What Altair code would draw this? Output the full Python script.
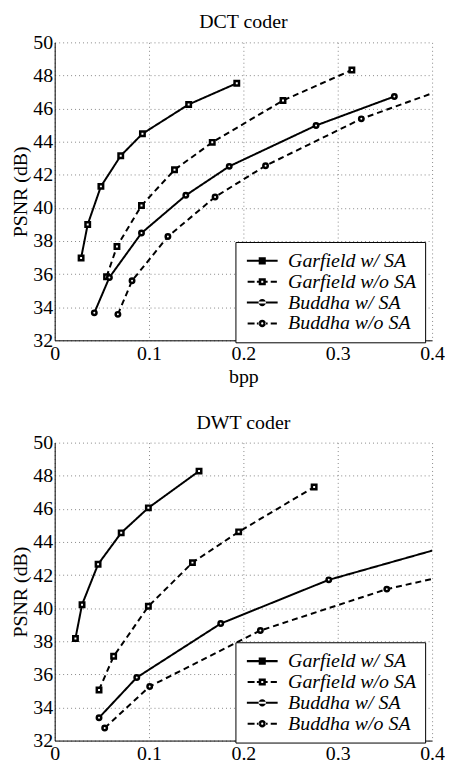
import altair as alt
import pandas as pd

series_names = ["Garfield w/ SA", "Garfield w/o SA", "Buddha w/ SA", "Buddha w/o SA"]
x_ticks = [0, 0.1, 0.2, 0.3, 0.4]
y_ticks = [32, 34, 36, 38, 40, 42, 44, 46, 48, 50]

# DCT coder
dct_garfield_sa_bpp = [0.028, 0.035, 0.049, 0.070, 0.093, 0.142, 0.193]
dct_garfield_sa_psnr = [36.97, 39.0, 41.3, 43.15, 44.48, 46.25, 47.53]
dct_garfield_nosa_bpp = [0.055, 0.066, 0.092, 0.127, 0.167, 0.242, 0.315]
dct_garfield_nosa_psnr = [35.84, 37.67, 40.14, 42.3, 43.96, 46.49, 48.33]
dct_buddha_sa_bpp = [0.042, 0.058, 0.092, 0.139, 0.185, 0.277, 0.360]
dct_buddha_sa_psnr = [33.66, 35.8, 38.48, 40.76, 42.51, 44.98, 46.73]
dct_buddha_nosa_bpp = [0.067, 0.082, 0.120, 0.170, 0.2235, 0.325, 0.45]
dct_buddha_nosa_psnr = [33.57, 35.6, 38.27, 40.66, 42.55, 45.38, 47.95]

# DWT coder
dwt_garfield_sa_bpp = [0.022, 0.029, 0.046, 0.0705, 0.0993, 0.153]
dwt_garfield_sa_psnr = [38.17, 40.21, 42.65, 44.55, 46.06, 48.28]
dwt_garfield_nosa_bpp = [0.047, 0.0625, 0.0993, 0.146, 0.195, 0.275]
dwt_garfield_nosa_psnr = [35.06, 37.09, 40.11, 42.75, 44.61, 47.32]
dwt_buddha_sa_bpp = [0.047, 0.087, 0.176, 0.2905, 0.47]
dwt_buddha_sa_psnr = [33.38, 35.81, 39.07, 41.71, 44.6]
dwt_buddha_nosa_bpp = [0.053, 0.1007, 0.218, 0.352, 0.52]
dwt_buddha_nosa_psnr = [32.76, 35.27, 38.65, 41.15, 43.3]

FONT = "Liberation Serif"


def make_df(parts):
    rows = []
    for name, xs, ys in parts:
        for a, b in zip(xs, ys):
            rows.append({"series": name, "bpp": a, "psnr": b})
    return pd.DataFrame(rows)


dct_df = make_df([
    (series_names[0], dct_garfield_sa_bpp, dct_garfield_sa_psnr),
    (series_names[1], dct_garfield_nosa_bpp, dct_garfield_nosa_psnr),
    (series_names[2], dct_buddha_sa_bpp, dct_buddha_sa_psnr),
    (series_names[3], dct_buddha_nosa_bpp, dct_buddha_nosa_psnr),
])
dwt_df = make_df([
    (series_names[0], dwt_garfield_sa_bpp, dwt_garfield_sa_psnr),
    (series_names[1], dwt_garfield_nosa_bpp, dwt_garfield_nosa_psnr),
    (series_names[2], dwt_buddha_sa_bpp, dwt_buddha_sa_psnr),
    (series_names[3], dwt_buddha_nosa_bpp, dwt_buddha_nosa_psnr),
])

# legend glyphs (filled outlines): line sample + marker; unit = half of nominal symbol size
SOLID_LINE = "M-2,-0.13H2V0.13H-2Z"
DASHED_LINE = ("M-1.9,-0.13H-1.0V0.13H-1.9Z"
               "M-0.7,-0.13H-0.4V0.13H-0.7Z"
               "M0.4,-0.13H0.7V0.13H0.4Z"
               "M1.1,-0.13H1.9V0.13H1.1Z")
SQ_SOLID = "M-0.46,-0.46H0.46V0.46H-0.46Z"
SQ_HOLE = "M-0.46,-0.46H0.46V0.46H-0.46ZM-0.13,-0.13V0.13H0.13V-0.13Z"
CI_SOLID = "M-0.48,0A0.48,0.48,0,1,0,0.48,0A0.48,0.48,0,1,0,-0.48,0Z"
CI_HOLE = (CI_SOLID + "M-0.14,0A0.14,0.14,0,1,1,0.14,0A0.14,0.14,0,1,1,-0.14,0Z")
legend_shapes = [SOLID_LINE + SQ_SOLID, DASHED_LINE + SQ_HOLE,
                 SOLID_LINE + CI_SOLID, DASHED_LINE + CI_HOLE]


def panel(df, title):
    x = alt.X("bpp:Q", scale=alt.Scale(domain=[0, 0.4], nice=False, zero=False),
              axis=alt.Axis(values=x_ticks, format="~g", title="bpp", labelFlush=False,
                            labelPadding=3, titlePadding=3, labelFont=FONT, titleFont=FONT,
                            labelFontSize=20, titleFontSize=20, labelOverlap=False))
    y = alt.Y("psnr:Q", scale=alt.Scale(domain=[32, 50], nice=False, zero=False),
              axis=alt.Axis(values=y_ticks, format="d", title="PSNR (dB)", labelFlush=False,
                            labelPadding=2, titlePadding=2, labelFont=FONT, titleFont=FONT,
                            labelFontSize=20, titleFontSize=20, labelOverlap=False))
    lines = alt.Chart(df).mark_line(clip=True, color="black", strokeWidth=2).encode(
        x=x, y=y,
        strokeDash=alt.StrokeDash("series:N",
                                  scale=alt.Scale(domain=series_names,
                                                  range=[[1, 0], [6, 4], [1, 0], [6, 4]]),
                                  legend=None),
        order="bpp:Q",
    )
    points = alt.Chart(df).mark_point(clip=True, fill="white", stroke="black", strokeWidth=2.5,
                                      size=20, opacity=1).encode(
        x=x, y=y,
        shape=alt.Shape("series:N",
                        scale=alt.Scale(domain=series_names,
                                        range=["square", "square", "circle", "circle"]),
                        legend=None),
    )
    leg = alt.Chart(df).transform_filter("false").mark_point(
        filled=True, fill="black", strokeWidth=0, size=240, opacity=1
    ).encode(
        shape=alt.Shape("series:N",
                        scale=alt.Scale(domain=series_names, range=legend_shapes),
                        legend=alt.Legend(orient="none", legendX=182, legendY=201, title=None,
                                          fillColor="white", strokeColor="black",
                                          padding=9, labelFont=FONT, labelFontStyle="italic",
                                          labelFontSize=20, labelColor="black",
                                          symbolSize=240, symbolStrokeWidth=0,
                                          symbolFillColor="black",
                                          symbolOffset=8, labelOffset=16, rowPadding=1)),
    )
    return alt.layer(lines, points, leg).resolve_scale(
        shape="independent"
    ).properties(
        width=380, height=300,
        title=alt.Title(title, font=FONT, fontSize=20, fontWeight="normal", color="black",
                        offset=0),
    )


chart = alt.vconcat(panel(dct_df, "DCT coder"), panel(dwt_df, "DWT coder"), spacing=25).properties(
    padding={"left": 2, "top": 1, "right": 0, "bottom": -22}
).configure_view(stroke="transparent").configure_axis(
    labelFont=FONT, labelFontSize=20, labelColor="black",
    titleFont=FONT, titleFontSize=20, titleFontWeight="normal", titleColor="black",
    domainColor="black", domainWidth=1, ticks=False,
    gridColor="#888888", gridDash=[1, 3], gridWidth=1,
)

chart.save("out.html", embed_options={"renderer": "svg", "actions": False})
